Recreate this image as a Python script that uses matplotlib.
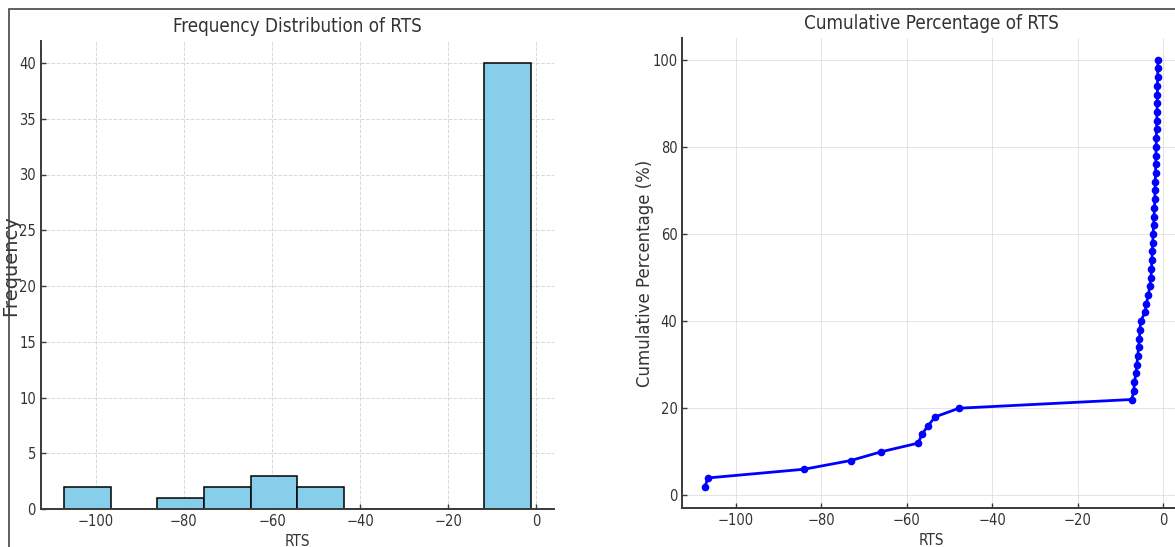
import numpy as np
import matplotlib
matplotlib.use("Agg")
import matplotlib.pyplot as plt
import matplotlib.patches as patches

# RTS values (50 samples, sorted)
rts_values = [-107.2, -106.5, -84.0, -73.1, -66.0, -57.3, -56.5, -55.0, -53.4, -47.8, -7.4,
              -6.9, -6.8, -6.4, -6.2, -6.0, -5.8, -5.6, -5.5, -5.3,
              -4.3, -4.0, -3.5, -3.2, -2.9, -2.8, -2.7, -2.6, -2.5, -2.4,
              -2.3, -2.2, -2.1, -2.0, -1.95, -1.9, -1.85, -1.8, -1.75, -1.7,
              -1.65, -1.6, -1.55, -1.5, -1.45, -1.4, -1.4, -1.35, -1.3, -1.3]
n_bins = 10

left_title = 'Frequency Distribution of RTS'
right_title = 'Cumulative Percentage of RTS'
x_label = 'RTS'
left_ylabel = 'Frequency'
right_ylabel = 'Cumulative Percentage (%)'

plt.rcParams['font.family'] = ['DejaVu Sans']
plt.rcParams['font.stretch'] = 'condensed'   # the source screenshot is squeezed sideways

W, H = 1175, 547
fig = plt.figure(figsize=(W / 100, H / 100), dpi=100)

spine_col = '#3a3a3a'
txt_col = '#333333'

def style_axes(ax):
    ax.spines['top'].set_visible(False)
    ax.spines['right'].set_visible(False)
    for s in ('left', 'bottom'):
        ax.spines[s].set_color(spine_col)
        ax.spines[s].set_linewidth(1.4)
    ax.tick_params(direction='in', length=3.5, width=1, colors=spine_col,
                   labelsize=10.5, labelcolor=txt_col)
    ax.set_axisbelow(True)

# ----------------------------------------------------------------
# Histogram
ax1 = fig.add_axes([40.7 / W, 38 / H, 513.3 / W, 468.3 / H])
ax1.hist(rts_values, bins=n_bins, color='skyblue', edgecolor='black', linewidth=1.1)
ax1.set_title(left_title, fontsize=13.5, color=txt_col, pad=6.5)
ax1.set_xlabel(x_label, fontsize=11, color=txt_col)
# rotated labels were not squeezed, so keep them at normal width
ax1.set_ylabel(left_ylabel, fontsize=14, color=txt_col, fontstretch='normal')
ax1.yaxis.set_label_coords(-0.040, 0.52)
ax1.grid(True, linestyle='--', color='#c8c8c8', linewidth=0.7, alpha=0.7)
style_axes(ax1)

# ----------------------------------------------------------------
# Cumulative percentage
vals = np.sort(np.array(rts_values))
cum_pct = np.arange(1, len(vals) + 1) / len(vals) * 100

ax2 = fig.add_axes([682.3 / W, 39 / H, 498.2 / W, 469.7 / H])
ax2.plot(vals, cum_pct, color='blue', marker='o', markersize=4.5, linewidth=2)
ax2.set_title(right_title, fontsize=13.5, color=txt_col, pad=7)
ax2.set_xlabel(x_label, fontsize=11, color=txt_col)
ax2.set_ylabel(right_ylabel, fontsize=12, color=txt_col, fontstretch='normal')
ax2.yaxis.set_label_coords(-0.057, 0.5)
ax2.grid(True, linestyle='-', color='#d8d8d8', linewidth=0.7, alpha=0.7)
style_axes(ax2)

# screenshot frame
fig.patches.append(patches.Rectangle((9 / W, -0.1), 1.2, (H - 9) / H + 0.1,
                                     transform=fig.transFigure, fill=False,
                                     edgecolor='#444444', linewidth=1.2))

fig.savefig('out.png', dpi=100)
